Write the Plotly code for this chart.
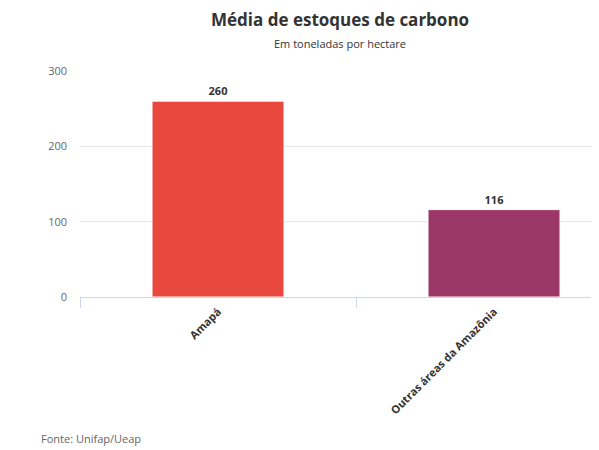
import plotly.graph_objects as go

# data
regioes = ["Amapá", "Outras áreas da Amazônia"]
estoques = [260, 116]
cores = ["#E8483D", "#9B3766"]

# the page adds an 8px body margin, so layout is shifted up/left by that much
OFF = 8
plot_left = 80 - OFF
plot_top = 71 - OFF
plot_bottom = 297 - OFF
plot_h = plot_bottom - plot_top
plot_w = 599 - plot_left
cat_px = 276  # width of one category slot on screen

fig = go.Figure()

fig.add_trace(go.Bar(
    x=regioes, y=estoques,
    marker=dict(color=cores, line=dict(color="#ffffff", width=1)),
    width=132 / cat_px,
    text=[str(v) for v in estoques],
    textposition="outside",
    textfont=dict(family="Open Sans", size=11, color="#333333", weight="bold"),
    cliponaxis=False,
    hoverinfo="x+y",
))

fig.update_layout(
    width=599, height=450,
    margin=dict(l=plot_left, r=0, t=plot_top, b=450 - plot_bottom),
    paper_bgcolor="white", plot_bgcolor="white",
    font=dict(family="Open Sans", color="#333333"),
    showlegend=False,
)

fig.update_xaxes(
    range=[-0.5, -0.5 + plot_w / cat_px],
    showgrid=False,
    showline=True, linecolor="#ccd6eb", linewidth=1,
    ticks="outside", tickson="boundaries", ticklen=10, tickcolor="#ccd6eb",
    tickangle=-45, ticklabelstandoff=3,
    tickfont=dict(family="Open Sans", size=11, color="#333333", weight="bold"),
    fixedrange=True,
)

fig.update_yaxes(
    range=[0, 300],
    tickvals=[0, 100, 200, 300],
    showgrid=True, gridcolor="#e6e6ee", gridwidth=1,
    zeroline=False, showline=False,
    ticks="", ticklabelstandoff=12,
    tickfont=dict(family="Open Sans", size=11, color="#666666"),
    fixedrange=True,
)

# title and subtitle (centred on the original, wider chart)
fig.add_annotation(
    text="<b>Média de estoques de carbono</b>",
    xref="paper", yref="paper",
    x=(340 - 80) / plot_w, y=1 + (71 - 19) / plot_h,
    xanchor="center", yanchor="middle", showarrow=False,
    font=dict(family="Open Sans", size=17, color="#333333"),
)

fig.add_annotation(
    text="Em toneladas por hectare",
    xref="paper", yref="paper",
    x=(340 - 80) / plot_w, y=1 + (71 - 43) / plot_h,
    xanchor="center", yanchor="middle", showarrow=False,
    font=dict(family="Open Sans", size=11, color="#333333"),
)

fig.add_annotation(
    text="Fonte: Unifap/Ueap",
    xref="paper", yref="paper",
    x=(39 - 80) / plot_w, y=-(438 - 297) / plot_h,
    xanchor="left", yanchor="middle", showarrow=False,
    font=dict(family="Open Sans", size=11, color="#666666"),
)

fig.write_html("out.html")
